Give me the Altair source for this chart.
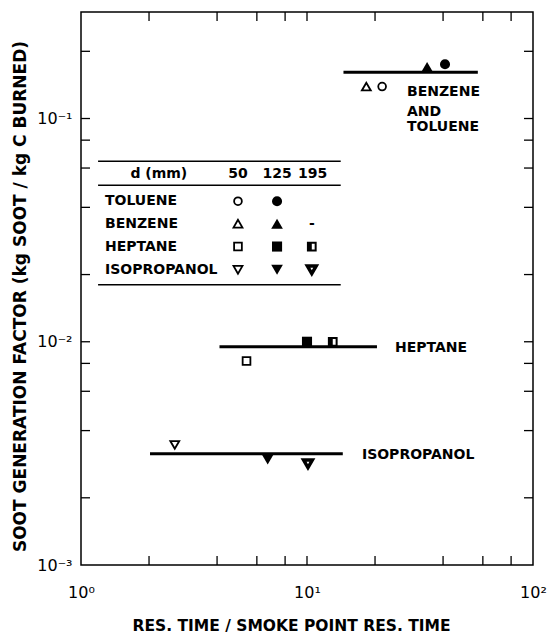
import altair as alt
import pandas as pd

# ---------------- data ----------------
# measured points
pt_name = ["toluene_50", "toluene_125", "benzene_50", "benzene_125",
           "heptane_50", "heptane_125", "heptane_195",
           "isopropanol_50", "isopropanol_125", "isopropanol_195"]
pt_x = [21.5, 40.8, 18.3, 34.0, 5.4, 10.0, 13.0, 2.6, 6.7, 10.1]
pt_y = [0.139, 0.175, 0.139, 0.170, 0.0082, 0.0100, 0.0100, 0.00345, 0.00297, 0.00284]

# horizontal fit lines
line_names = ["BENZENE AND TOLUENE", "HEPTANE", "ISOPROPANOL"]
line_x1 = [14.5, 4.1, 2.02]
line_x2 = [57.0, 20.4, 14.4]
line_y = [0.161, 0.0095, 0.00315]

# group labels
grp_text = ["BENZENE", "AND", "TOLUENE", "HEPTANE", "ISOPROPANOL"]
grp_x = [27.7, 27.7, 27.7, 24.5, 17.5]
grp_y = [0.131, 0.1075, 0.0912, 0.0094, 0.00311]

# inset key table (positions in data units)
key_fuels = ["TOLUENE", "BENZENE", "HEPTANE", "ISOPROPANOL"]
key_row_y = [0.0426, 0.0338, 0.0267, 0.0210]
key_head = ["d (mm)", "50", "125", "195"]
key_head_x = [2.21, 4.95, 7.37, 10.6]
key_head_y = 0.0567
key_label_x = 1.277
key_col_x = [4.95, 7.37, 10.5]
key_rule_y = [0.0644, 0.0502, 0.0180]
key_rule_x1 = 1.19
key_rule_x2 = 14.1

# axes
x_tick_vals = [1, 10, 100]
x_tick_text = ["10⁰", "10¹", "10²"]
y_tick_vals = [0.001, 0.01, 0.1]
y_tick_text = ["10⁻³", "10⁻²", "10⁻¹"]
x_minor = [2, 4, 6, 8, 10, 20, 40, 60, 80]
y_minor = [0.002, 0.004, 0.006, 0.008, 0.01, 0.02, 0.04, 0.06, 0.08, 0.1, 0.2]

# ---------------- styling ----------------
W, H = 452, 553
FONT = "DejaVu Sans"
style_of = {
    "toluene": ("circle", 60), "benzene": ("triangle-up", 80),
    "heptane": ("square", 60), "isopropanol": ("triangle-down", 80),
}
kind_of = {"50": "open", "125": "filled", "195": "special"}

rows = []
for n, x, y in zip(pt_name, pt_x, pt_y):
    fuel, d = n.split("_")
    shp, sz = style_of[fuel]
    rows.append(dict(x=x, y=y, shape=shp, size=sz, kind=kind_of[d], fuel=fuel))
# key symbols
fuel_keys = ["toluene", "benzene", "heptane", "isopropanol"]
avail = {"toluene": ["50", "125"], "benzene": ["50", "125"],
         "heptane": ["50", "125", "195"], "isopropanol": ["50", "125", "195"]}
for fuel, ry in zip(fuel_keys, key_row_y):
    shp, sz = style_of[fuel]
    for d, cx in zip(["50", "125", "195"], key_col_x):
        if d in avail[fuel]:
            rows.append(dict(x=cx, y=ry, shape=shp, size=sz, kind=kind_of[d], fuel=fuel))
pts = pd.DataFrame(rows)
pts["fsize"] = pts["size"] * 1.7

xs = alt.Scale(type="log", domain=[1, 100], nice=False)
ys = alt.Scale(type="log", domain=[0.001, 0.3], nice=False)


def expr(vals, texts):
    e = ""
    for v, t in zip(vals, texts):
        e += f"abs(datum.value - {v}) < {v * 1e-6} ? '{t}' : "
    return e + "''"


X = alt.X("x:Q", scale=xs, axis=alt.Axis(
    values=x_tick_vals, labelExpr=expr(x_tick_vals, x_tick_text), tickSize=0,
    domain=False, grid=False, labelPadding=19, labelFontSize=16, labelFont=FONT,
    labelColor="black", labelFlush=False,
    title="RES. TIME / SMOKE POINT RES. TIME", titleFont=FONT, titleFontSize=15.5,
    titleFontWeight="bold", titleColor="black", titleX=210, titleY=60,
    titleAlign="center", titleBaseline="middle"))
Y = alt.Y("y:Q", scale=ys, axis=alt.Axis(
    values=y_tick_vals, labelExpr=expr(y_tick_vals, y_tick_text), tickSize=0,
    domain=False, grid=False, labelPadding=9, labelFontSize=16, labelFont=FONT,
    labelColor="black", labelFlush=False,
    title="SOOT GENERATION FACTOR (kg SOOT / kg C BURNED)", titleFont=FONT,
    titleFontSize=17, titleFontWeight="bold", titleColor="black",
    titleX=-61, titleY=284, titleAngle=270, titleAlign="center",
    titleBaseline="middle"))

base = alt.Chart(pts)

open_pts = base.transform_filter("datum.kind == 'open'").mark_point(
    filled=False, color="black", strokeWidth=1.8, opacity=1).encode(
    x=X, y=Y, shape=alt.Shape("shape:N", scale=None), size=alt.Size("size:Q", scale=None))
filled_pts = base.transform_filter("datum.kind == 'filled'").mark_point(
    filled=True, color="black", opacity=1).encode(
    x="x:Q", y="y:Q", shape=alt.Shape("shape:N", scale=None),
    size=alt.Size("fsize:Q", scale=None))
thick_tri = base.transform_filter(
    "datum.kind == 'special' && datum.fuel == 'isopropanol'").mark_point(
    filled=False, color="black", strokeWidth=3.4, opacity=1).encode(
    x="x:Q", y="y:Q", shape=alt.Shape("shape:N", scale=None),
    size=alt.Size("size:Q", scale=None))
half_open = base.transform_filter(
    "datum.kind == 'special' && datum.fuel == 'heptane'").mark_point(
    filled=False, color="black", strokeWidth=2, opacity=1).encode(
    x="x:Q", y="y:Q", shape=alt.Shape("shape:N", scale=None),
    size=alt.Size("size:Q", scale=None))
half_fill = base.transform_filter(
    "datum.kind == 'special' && datum.fuel == 'heptane'").mark_point(
    filled=True, color="black", opacity=1, shape="M-1,-1H0V1H-1Z").encode(
    x="x:Q", y="y:Q", size=alt.Size("size:Q", scale=None))

fit = pd.DataFrame(dict(name=line_names, x1=line_x1, x2=line_x2, y=line_y))
fit_lines = alt.Chart(fit).mark_rule(color="black", strokeWidth=3).encode(
    x="x1:Q", x2="x2:Q", y="y:Q")

grp = pd.DataFrame(dict(t=grp_text, x=grp_x, y=grp_y))
grp_labels = alt.Chart(grp).mark_text(
    align="left", baseline="middle", font=FONT, fontSize=14, fontWeight="bold",
    color="black").encode(x="x:Q", y="y:Q", text="t:N")

krules = pd.DataFrame(dict(y=key_rule_y, x1=[key_rule_x1] * 3, x2=[key_rule_x2] * 3))
key_rules = alt.Chart(krules).mark_rule(color="black", strokeWidth=1.5).encode(
    x="x1:Q", x2="x2:Q", y="y:Q")

kfuel = pd.DataFrame(dict(t=key_fuels, x=[key_label_x] * 4, y=key_row_y))
key_fuel_text = alt.Chart(kfuel).mark_text(
    align="left", baseline="middle", font=FONT, fontSize=14, fontWeight="bold",
    color="black").encode(x="x:Q", y="y:Q", text="t:N")

khead = pd.DataFrame(dict(t=key_head + ["-"], x=key_head_x + [key_col_x[2]],
                          y=[key_head_y] * 4 + [key_row_y[1]]))
key_head_text = alt.Chart(khead).mark_text(
    align="center", baseline="middle", font=FONT, fontSize=14, fontWeight="bold",
    color="black").encode(x="x:Q", y="y:Q", text="t:N")

# inward ticks on all four sides
xm = pd.DataFrame(dict(x=x_minor))
ym = pd.DataFrame(dict(y=y_minor))
tk = dict(color="black", strokeWidth=1.3)
t_bottom = alt.Chart(xm).mark_rule(**tk).encode(x="x:Q", y=alt.value(H), y2=alt.value(H - 9))
t_top = alt.Chart(xm).mark_rule(**tk).encode(x="x:Q", y=alt.value(0), y2=alt.value(9))
t_left = alt.Chart(ym).mark_rule(**tk).encode(y="y:Q", x=alt.value(0), x2=alt.value(9))
t_right = alt.Chart(ym).mark_rule(**tk).encode(y="y:Q", x=alt.value(W), x2=alt.value(W - 9))

chart = alt.layer(
    open_pts, filled_pts, thick_tri, half_open, half_fill, fit_lines, grp_labels,
    key_rules, key_fuel_text, key_head_text, t_bottom, t_top, t_left, t_right
).properties(
    width=W, height=H,
    padding={"left": 81, "top": 12, "right": 14, "bottom": 71},
    autosize=alt.AutoSizeParams(type="none"),
    background="white",
).configure_view(stroke="black", strokeWidth=1.5)

chart.save("out.html", embed_options={"renderer": "svg", "actions": False})
